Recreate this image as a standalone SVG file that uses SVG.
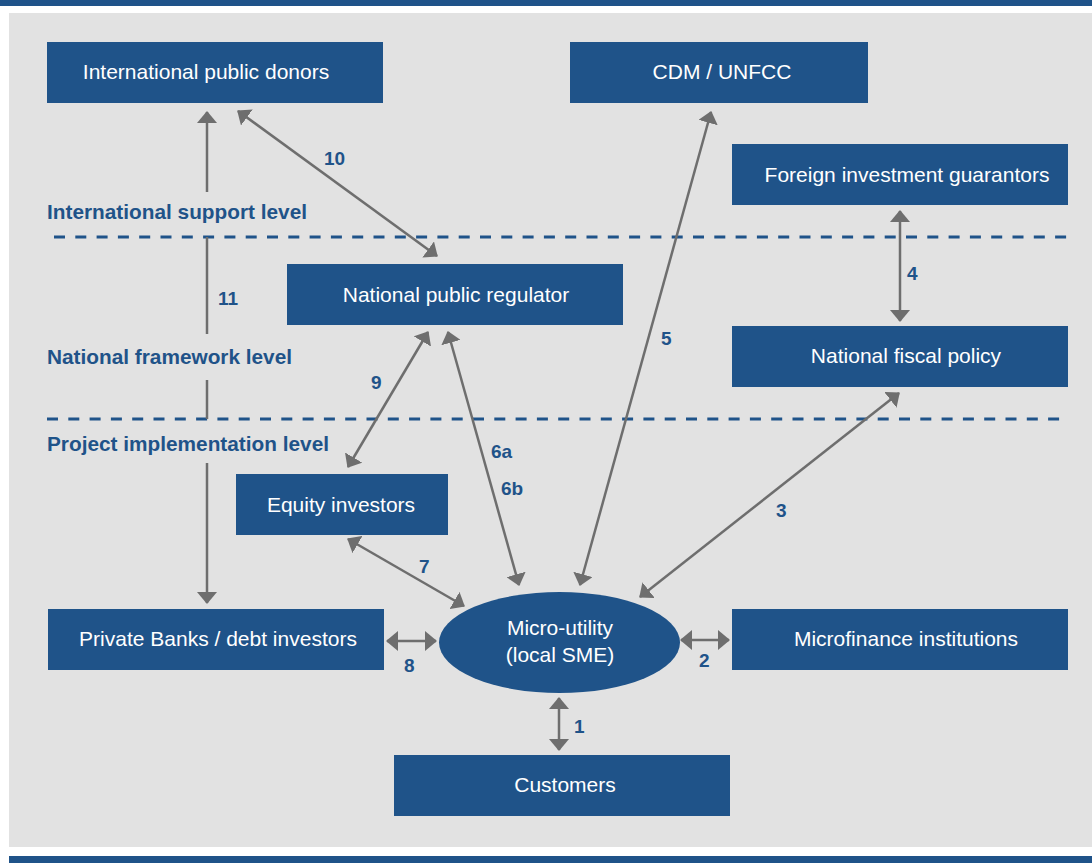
<svg xmlns="http://www.w3.org/2000/svg" width="1092" height="863" viewBox="0 0 1092 863">
<style>
.box{fill:#1f5389}
.bt{font-family:"Liberation Sans",Arial,sans-serif;font-size:21px;fill:#ffffff;text-anchor:middle}
.lvl{font-family:"Liberation Sans",Arial,sans-serif;font-size:20.8px;font-weight:bold;fill:#1f5389}
.num{font-family:"Liberation Sans",Arial,sans-serif;font-size:19px;font-weight:bold;fill:#1f5389}
.con{stroke:#6e6e6e;stroke-width:2.5;fill:none}
.dash{stroke:#1f5389;stroke-width:2.8;stroke-dasharray:11 10.3;fill:none}
</style>
<defs>
<marker id="ah" viewBox="0 0 12 20" refX="11" refY="10" markerWidth="12" markerHeight="20" markerUnits="userSpaceOnUse" orient="auto-start-reverse">
<path d="M0,0 L12,10 L0,20 z" fill="#6e6e6e"/>
</marker>
</defs>
<rect x="0" y="0" width="1092" height="863" fill="#ffffff"/>
<rect x="0" y="0" width="1092" height="6" fill="#1f5389"/>
<rect x="9" y="13" width="1083" height="834" fill="#e2e2e2"/>
<rect x="9" y="856" width="1083" height="7" fill="#1f5389"/>

<g id="levels">
<line class="dash" x1="54" y1="237" x2="1068" y2="237"/>
<line class="dash" x1="47" y1="419" x2="1068" y2="419"/>
<text class="lvl" x="47" y="219">International support level</text>
<text class="lvl" x="47" y="364">National framework level</text>
<text class="lvl" x="47" y="451">Project implementation level</text>
</g>

<g id="connectors">
<line class="con" x1="207" y1="192" x2="207" y2="112" marker-end="url(#ah)"/>
<line class="con" x1="207" y1="237" x2="207" y2="334"/>
<line class="con" x1="207" y1="380" x2="207" y2="419"/>
<line class="con" x1="207" y1="463" x2="207" y2="603" marker-end="url(#ah)"/>
<line class="con" x1="238" y1="111" x2="437" y2="256" marker-start="url(#ah)" marker-end="url(#ah)"/>
<line class="con" x1="428" y1="332" x2="348" y2="467" marker-start="url(#ah)" marker-end="url(#ah)"/>
<line class="con" x1="448" y1="332" x2="519" y2="585" marker-start="url(#ah)" marker-end="url(#ah)"/>
<line class="con" x1="711" y1="112" x2="580" y2="585" marker-start="url(#ah)" marker-end="url(#ah)"/>
<line class="con" x1="900" y1="211" x2="900" y2="321" marker-start="url(#ah)" marker-end="url(#ah)"/>
<line class="con" x1="899" y1="393" x2="640" y2="597" marker-start="url(#ah)" marker-end="url(#ah)"/>
<line class="con" x1="348" y1="539" x2="464" y2="606" marker-start="url(#ah)" marker-end="url(#ah)"/>
<line class="con" x1="387" y1="641" x2="436" y2="641" marker-start="url(#ah)" marker-end="url(#ah)"/>
<line class="con" x1="681" y1="640" x2="729" y2="640" marker-start="url(#ah)" marker-end="url(#ah)"/>
<line class="con" x1="559" y1="698" x2="559" y2="750" marker-start="url(#ah)" marker-end="url(#ah)"/>
<text class="num" x="218" y="305">11</text>
<text class="num" x="324" y="165">10</text>
<text class="num" x="371" y="389">9</text>
<text class="num" x="491" y="458">6a</text>
<text class="num" x="501" y="495">6b</text>
<text class="num" x="661" y="345">5</text>
<text class="num" x="907" y="280">4</text>
<text class="num" x="776" y="517">3</text>
<text class="num" x="419" y="573">7</text>
<text class="num" x="404" y="672">8</text>
<text class="num" x="699" y="667">2</text>
<text class="num" x="574" y="733">1</text>
</g>

<g id="donors"><rect class="box" x="47" y="42" width="336" height="61"/><text class="bt" x="206" y="79">International public donors</text></g>
<g id="cdm"><rect class="box" x="570" y="42" width="298" height="61"/><text class="bt" x="722" y="79">CDM / UNFCC</text></g>
<g id="guarantors"><rect class="box" x="732" y="144" width="336" height="61"/><text class="bt" x="907" y="182">Foreign investment guarantors</text></g>
<g id="regulator"><rect class="box" x="287" y="264" width="336" height="61"/><text class="bt" x="456" y="302">National public regulator</text></g>
<g id="fiscal"><rect class="box" x="732" y="326" width="336" height="61"/><text class="bt" x="906" y="363">National fiscal policy</text></g>
<g id="equity"><rect class="box" x="236" y="474" width="212" height="61"/><text class="bt" x="341" y="512">Equity investors</text></g>
<g id="banks"><rect class="box" x="48" y="609" width="336" height="61"/><text class="bt" x="218" y="646">Private Banks / debt investors</text></g>
<g id="microfinance"><rect class="box" x="732" y="609" width="336" height="61"/><text class="bt" x="906" y="646">Microfinance institutions</text></g>
<g id="customers"><rect class="box" x="394" y="755" width="336" height="61"/><text class="bt" x="565" y="792">Customers</text></g>
<g id="microutility"><ellipse class="box" cx="559.5" cy="642.5" rx="120.5" ry="50.5"/><text class="bt" x="560" y="635">Micro-utility</text><text class="bt" x="560" y="662">(local SME)</text></g>
</svg>
